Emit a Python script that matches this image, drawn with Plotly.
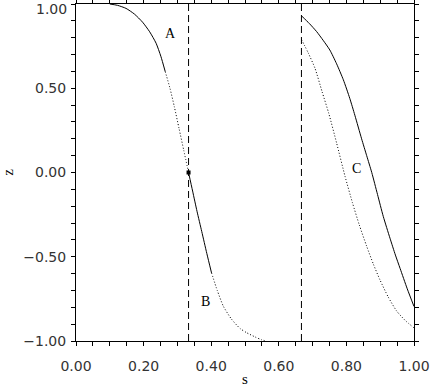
import plotly.graph_objects as go

# ---- data ----
# Curve A-B (left), split by line style
ab_solid1_s = [0.100, 0.123, 0.148, 0.173, 0.197, 0.218, 0.237, 0.251, 0.264]
ab_solid1_z = [1.000, 0.992, 0.974, 0.940, 0.892, 0.835, 0.767, 0.690, 0.599]
ab_dot1_s = [0.264, 0.278, 0.291, 0.305, 0.319, 0.333]
ab_dot1_z = [0.599, 0.500, 0.390, 0.260, 0.130, 0.000]
ab_solid2_s = [0.333, 0.345, 0.358, 0.372, 0.387, 0.401]
ab_solid2_z = [0.000, -0.110, -0.230, -0.350, -0.480, -0.596]
ab_dot2_s = [0.401, 0.418, 0.436, 0.460, 0.485, 0.505, 0.530, 0.548, 0.562]
ab_dot2_z = [-0.596, -0.700, -0.794, -0.870, -0.925, -0.951, -0.976, -0.992, -1.000]

# Curve C (right) solid and dotted
c_solid_s = [0.667, 0.690, 0.712, 0.731, 0.751, 0.771, 0.791, 0.810, 0.825, 0.845,
             0.860, 0.875, 0.892, 0.909, 0.929, 0.945, 0.959, 0.980, 1.000]
c_solid_z = [0.930, 0.885, 0.836, 0.785, 0.727, 0.645, 0.550, 0.440, 0.340, 0.200,
             0.100, 0.000, -0.130, -0.260, -0.390, -0.490, -0.570, -0.690, -0.795]
c_dot_s = [0.667, 0.687, 0.707, 0.728, 0.748, 0.771, 0.796, 0.818, 0.838, 0.860,
           0.880, 0.899, 0.924, 0.949, 0.975, 1.000]
c_dot_z = [0.790, 0.710, 0.619, 0.480, 0.350, 0.175, -0.023, -0.180, -0.310, -0.438,
           -0.545, -0.636, -0.740, -0.823, -0.880, -0.922]

# Marked point and vertical boundaries
point_s = [0.333]
point_z = [0.0]
boundaries = [0.333, 0.667]

# Labels
label_text = ["A", "B", "C"]
label_s = [0.281, 0.382, 0.831]
label_z = [0.822, -0.766, 0.022]

x_ticks = [0.0, 0.2, 0.4, 0.6, 0.8, 1.0]
y_ticks = [-1.0, -0.5, 0.0, 0.5, 1.0]
y_tick_text = ["\u22121.00", "\u22120.50", "0.00", "0.50", ""]
y_top_label = "1.00"

fig = go.Figure()

solid = dict(color="black", width=1)
dotted = dict(color="black", width=1, dash="1px,2px")

for xs, zs, st in [(ab_solid1_s, ab_solid1_z, solid), (ab_dot1_s, ab_dot1_z, dotted),
                   (ab_solid2_s, ab_solid2_z, solid), (ab_dot2_s, ab_dot2_z, dotted),
                   (c_solid_s, c_solid_z, solid), (c_dot_s, c_dot_z, dotted)]:
    fig.add_trace(go.Scatter(x=xs, y=zs, mode="lines", line=dict(shape="spline", smoothing=0.6, **st),
                             hoverinfo="skip", showlegend=False))

for b in boundaries:
    fig.add_trace(go.Scatter(x=[b, b], y=[-1, 1], mode="lines",
                             line=dict(color="black", width=1, dash="7px,4px"),
                             hoverinfo="skip", showlegend=False))

fig.add_trace(go.Scatter(x=point_s, y=point_z, mode="markers",
                         marker=dict(symbol="square", size=4, color="black"),
                         showlegend=False))

for t, s, z in zip(label_text, label_s, label_z):
    fig.add_annotation(x=s, y=z, text=t, showarrow=False,
                       font=dict(family="Liberation Serif", size=14, color="black"))

tick_font = dict(family="DejaVu Sans", size=14, color="#333")

# top y tick label, nudged down so it stays inside the page
fig.add_annotation(xref="paper", yref="y", x=0, y=y_ticks[-1], text=y_top_label,
                   showarrow=False, xanchor="right", yanchor="top", xshift=-7, yshift=5,
                   font=tick_font)

axis_common = dict(showline=True, linecolor="black", linewidth=1, mirror="ticks",
                   ticks="outside", ticklen=4, tickcolor="black", tickwidth=1,
                   showgrid=False, zeroline=False, automargin=False,
                   ticklabeloverflow="allow", tickfont=tick_font)

fig.update_xaxes(range=[0, 1], tickvals=x_ticks, tickformat=".2f",
                 minor=dict(dtick=0.05, ticks="outside", ticklen=4, tickcolor="black"),
                 ticklabelstandoff=8,
                 title=dict(text="s", font=dict(family="Liberation Serif", size=15, color="black"),
                            standoff=2),
                 **axis_common)
fig.update_yaxes(range=[-1, 1], tickvals=y_ticks, ticktext=y_tick_text,
                 minor=dict(dtick=0.1, ticks="outside", ticklen=4, tickcolor="black"),
                 ticklabelstandoff=2,
                 title=dict(text="z", font=dict(family="Liberation Serif", size=15, color="black"),
                            standoff=17),
                 **axis_common)

fig.update_layout(width=430, height=387, margin=dict(l=76, r=16, t=4, b=46),
                  plot_bgcolor="white", paper_bgcolor="white")

fig.write_html("out.html", config={"displayModeBar": False},
               post_script="document.body.style.margin='0';document.body.style.overflow='hidden';")
